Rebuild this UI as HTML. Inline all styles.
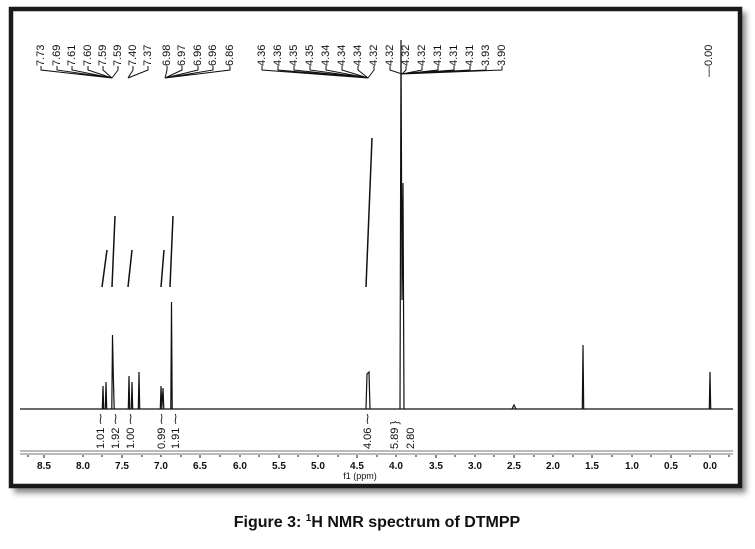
<!DOCTYPE html>
<html><head><meta charset="utf-8"><style>
body{margin:0;background:#fff;width:755px;height:544px;overflow:hidden;font-family:"Liberation Sans",sans-serif}
</style></head><body>
<svg width="755" height="544" viewBox="0 0 755 544" xmlns="http://www.w3.org/2000/svg">
<defs><filter id="sh" x="-5%" y="-5%" width="110%" height="110%"><feGaussianBlur stdDeviation="3"/></filter></defs>
<rect x="14" y="12" width="732" height="481" fill="#888" filter="url(#sh)"/>
<rect x="11" y="9" width="729" height="477" fill="#fff" stroke="#1a1a1a" stroke-width="4.5"/>
<g font-size="11" fill="#111" font-family="Liberation Sans,sans-serif">
<text transform="translate(44,66) rotate(-90)">7.73</text>
<text transform="translate(60,66) rotate(-90)">7.69</text>
<text transform="translate(75,66) rotate(-90)">7.61</text>
<text transform="translate(91,66) rotate(-90)">7.60</text>
<text transform="translate(106,66) rotate(-90)">7.59</text>
<text transform="translate(121,66) rotate(-90)">7.59</text>
<text transform="translate(136,66) rotate(-90)">7.40</text>
<text transform="translate(151,66) rotate(-90)">7.37</text>
<text transform="translate(170,66) rotate(-90)">6.98</text>
<text transform="translate(185,66) rotate(-90)">6.97</text>
<text transform="translate(201,66) rotate(-90)">6.96</text>
<text transform="translate(216,66) rotate(-90)">6.96</text>
<text transform="translate(233,66) rotate(-90)">6.86</text>
<text transform="translate(265,66) rotate(-90)">4.36</text>
<text transform="translate(281,66) rotate(-90)">4.36</text>
<text transform="translate(297,66) rotate(-90)">4.35</text>
<text transform="translate(313,66) rotate(-90)">4.35</text>
<text transform="translate(329,66) rotate(-90)">4.34</text>
<text transform="translate(345,66) rotate(-90)">4.34</text>
<text transform="translate(361,66) rotate(-90)">4.34</text>
<text transform="translate(377,66) rotate(-90)">4.32</text>
<text transform="translate(393,66) rotate(-90)">4.32</text>
<text transform="translate(409,66) rotate(-90)">4.32</text>
<text transform="translate(425,66) rotate(-90)">4.32</text>
<text transform="translate(441,66) rotate(-90)">4.31</text>
<text transform="translate(457,66) rotate(-90)">4.31</text>
<text transform="translate(473,66) rotate(-90)">4.31</text>
<text transform="translate(489,66) rotate(-90)">3.93</text>
<text transform="translate(505,66) rotate(-90)">3.90</text>
<text transform="translate(712,77) rotate(-90)">—0.00</text>
<g stroke="#111" fill="none" stroke-width="1">
<path d="M41,66V70L112,78M57,66V70L112,78M72,66V70L112,78M88,66V70L112,78M103,66V70L112,78M118,66V70L112,78"/>
<path d="M133,66V70L128,78M148,66V70L128,78"/>
<path d="M167,66V70L165,78M182,66V70L165,78M198,66V70L165,78M213,66V70L165,78M230,66V70L165,78"/>
<path d="M262,66V70L368,78M278,66V70L368,78M294,66V70L368,78M310,66V70L368,78M326,66V70L368,78M342,66V70L368,78M358,66V70L368,78M374,66V70L368,78"/>
<path d="M390,66V70L402,74M406,66V70L402,74M422,66V70L402,74M438,66V70L402,74M454,66V70L402,74M470,66V70L402,74M486,66V70L402,74M502,66V70L402,74"/>
</g>
</g>
<g stroke="#111" fill="none" stroke-width="1.2">
<path d="M20,409H733"/>
<path d="M102.3,409L103,386L103.7,409M105.3,409L106,382L106.7,409M111.8,409L112.5,335L113.3,375L114.2,409M128.3,409L129,376L129.7,409M131.3,409L132,382L132.7,409M138.3,409L139,372L139.7,409M160.3,409L161,386L161.8,409L163,388L163.8,409M170.8,409L171.5,302L172.2,409M366,409L367,374L369,372L370,409M400,409L401,40L402,300L403,183L404,409M582.3,409L583,345L583.7,409M709.3,409L710,372L710.7,409M512,409L514,405L516,409"/>
<path stroke-width="1.5" d="M102,287L107,250M112,287L115,216M128,287L132,250M161,287L164,250M170,287L173,216M366,287L372,138"/>
</g>
<path d="M20,451H733M20,454H733" stroke="#777" stroke-width="1"/>
<g stroke="#111" stroke-width="1">
<path d="M44,455v3M83,455v2M122,455v3M161,455v2M200,455v3M240,455v2M279,455v3M318,455v2M357,455v3M396,455v2M436,455v3M475,455v2M514,455v3M553,455v2M592,455v3M632,455v2M671,455v3M710,455v3M28,455v2M102,455v2M142,455v2M181,455v2M220,455v2M259,455v2M298,455v2M338,455v2M377,455v2M416,455v2M455,455v2M494,455v2M534,455v2M573,455v2M612,455v2M651,455v2M690,455v2M729,455v2"/>
</g>
<g font-size="10" font-weight="bold" fill="#111" text-anchor="middle">
<text x="44" y="469">8.5</text><text x="83" y="469">8.0</text><text x="122" y="469">7.5</text><text x="161" y="469">7.0</text><text x="200" y="469">6.5</text><text x="240" y="469">6.0</text><text x="279" y="469">5.5</text><text x="318" y="469">5.0</text><text x="357" y="469">4.5</text><text x="396" y="469">4.0</text><text x="436" y="469">3.5</text><text x="475" y="469">3.0</text><text x="514" y="469">2.5</text><text x="553" y="469">2.0</text><text x="592" y="469">1.5</text><text x="632" y="469">1.0</text><text x="671" y="469">0.5</text><text x="710" y="469">0.0</text>
<text x="360" y="479" font-weight="normal" font-size="9">f1 (ppm)</text>
</g>
<g font-size="11" fill="#111">
<text transform="translate(104,449) rotate(-90)">1.01 ⁓</text>
<text transform="translate(119,449) rotate(-90)">1.92 ⁓</text>
<text transform="translate(134,449) rotate(-90)">1.00 ⁓</text>
<text transform="translate(165,449) rotate(-90)">0.99 ⁓</text>
<text transform="translate(179,449) rotate(-90)">1.91 ⁓</text>
<text transform="translate(371,449) rotate(-90)">4.06 ⁓</text>
<text transform="translate(398,449) rotate(-90)">5.89 }</text>
<text transform="translate(414,449) rotate(-90)">2.80</text>
</g>
<text x="377" y="527" text-anchor="middle" font-size="16" font-weight="bold" fill="#111">Figure 3: <tspan font-size="10" dy="-6">1</tspan><tspan dy="6">H NMR spectrum of DTMPP</tspan></text>
</svg>
</body></html>
